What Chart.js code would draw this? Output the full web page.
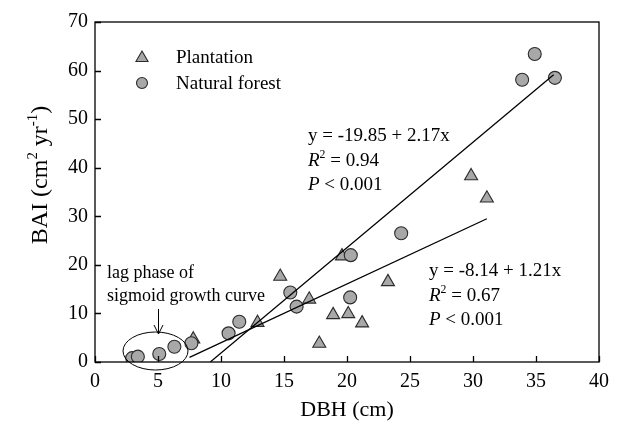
<!DOCTYPE html>
<html>
<head>
<meta charset="utf-8">
<script src="https://cdn.jsdelivr.net/npm/chart.js@4.4.0/dist/chart.umd.min.js"></script>
<style>
    html, body { margin: 0; padding: 0; background: #fff; }
    canvas { display: block; }
</style>
</head>
<body>
<canvas id="baiChart" width="617" height="435"></canvas>
<script>
const plantationDbh = [7.8, 12.9, 14.7, 17.0, 17.8, 18.9, 19.6, 20.1, 21.2, 23.25, 29.85, 31.1];
const plantationBai = [4.7, 8.1, 17.6, 12.9, 3.8, 9.7, 21.8, 9.9, 8.0, 16.5, 38.3, 33.7];

const naturalDbh = [2.95, 3.4, 5.1, 6.3, 7.65, 10.6, 11.45, 15.5, 16.0, 20.3, 20.25, 24.3, 33.9, 34.9, 36.5];
const naturalBai = [0.8, 1.1, 1.65, 3.15, 3.85, 5.9, 8.3, 14.3, 11.4, 22.0, 13.3, 26.5, 58.1, 63.4, 58.5];

// regression lines: [natural forest, plantation]
const fitIntercepts = [-19.85, -8.14];
const fitSlopes = [2.17, 1.21];
const fitFrom = [9.15, 7.5];
const fitTo = [36.4, 31.1];
const fitR2 = ['0.94', '0.67'];
const fitP = ['0.001', '0.001'];

const xTickValues = [0, 5, 10, 15, 20, 25, 30, 35, 40];
const yTickValues = [0, 10, 20, 30, 40, 50, 60, 70];
const legendLabels = ['Plantation', 'Natural forest'];

const SERIF = '"Liberation Serif", "Times New Roman", serif';
const MARKER_FILL = '#a8a8a8';
const MARKER_EDGE = '#2b2b2b';

const toPoints = (xs, ys) => xs.map((x, i) => ({ x, y: ys[i] }));
const fitLine = (i) => [fitFrom[i], fitTo[i]].map((x) => ({ x, y: fitIntercepts[i] + fitSlopes[i] * x }));
const fmtSigned = (v) => (v < 0 ? `-${Math.abs(v).toFixed(2)}` : v.toFixed(2));

// draws text made of parts ({t, italic, sup}), returns width
const drawRich = (ctx, parts, x, y, size, measureOnly = false) => {
    let cx = x;
    parts.forEach((p) => {
        const s = p.sup ? size * 0.62 : size;
        ctx.font = `${p.italic ? 'italic ' : ''}${s}px ${SERIF}`;
        if (!measureOnly) {
            ctx.fillText(p.t, cx, p.sup ? y - size * 0.4 : y);
        }
        cx += ctx.measureText(p.t).width;
    });
    return cx - x;
};

const drawTriangle = (ctx, x, y, r) => {
    ctx.beginPath();
    ctx.moveTo(x, y - r);
    ctx.lineTo(x + r * Math.sin(Math.PI * 2 / 3), y + r / 2);
    ctx.lineTo(x - r * Math.sin(Math.PI * 2 / 3), y + r / 2);
    ctx.closePath();
    ctx.fill();
    ctx.stroke();
};

const decorations = {
    id: 'decorations',
    afterDraw(chart) {
        const { ctx, chartArea: area, scales: { x, y } } = chart;
        ctx.save();
        ctx.strokeStyle = '#000';
        ctx.fillStyle = '#000';
        ctx.lineWidth = 1.3;

        // frame + inward ticks
        ctx.strokeRect(area.left, area.top, area.right - area.left, area.bottom - area.top);
        ctx.beginPath();
        yTickValues.forEach((v) => {
            const py = Math.round(y.getPixelForValue(v)) + 0.5;
            ctx.moveTo(area.left, py);
            ctx.lineTo(area.left + 6, py);
        });
        xTickValues.forEach((v) => {
            const px = Math.round(x.getPixelForValue(v)) + 0.5;
            ctx.moveTo(px, area.bottom);
            ctx.lineTo(px, area.bottom - 6);
        });
        ctx.stroke();

        // legend
        ctx.lineWidth = 1.1;
        ctx.strokeStyle = MARKER_EDGE;
        ctx.fillStyle = MARKER_FILL;
        drawTriangle(ctx, 142, 58, 7);
        ctx.beginPath();
        ctx.arc(142, 83, 5.5, 0, Math.PI * 2);
        ctx.fill();
        ctx.stroke();
        ctx.fillStyle = '#000';
        ctx.textBaseline = 'middle';
        ctx.font = `19px ${SERIF}`;
        ctx.fillText(legendLabels[0], 176, 58);
        ctx.fillText(legendLabels[1], 176, 84);

        // equations
        ctx.textBaseline = 'alphabetic';
        const eqPos = [[308, 141], [429, 276]];
        eqPos.forEach(([ex, ey], i) => {
            drawRich(ctx, [{ t: `y = ${fmtSigned(fitIntercepts[i])} + ${fitSlopes[i].toFixed(2)}x` }], ex, ey, 19);
            drawRich(ctx, [{ t: 'R', italic: true }, { t: '2', sup: true }, { t: ` = ${fitR2[i]}` }], ex, ey + 24.5, 19);
            drawRich(ctx, [{ t: 'P', italic: true }, { t: ` < ${fitP[i]}` }], ex, ey + 49, 19);
        });

        // lag phase annotation
        ctx.font = `18px ${SERIF}`;
        ctx.fillText('lag phase of', 107, 278);
        ctx.fillText('sigmoid growth curve', 107, 301);
        ctx.strokeStyle = '#000';
        ctx.lineWidth = 1;
        ctx.beginPath();
        ctx.moveTo(158.5, 309);
        ctx.lineTo(158.5, 334);
        ctx.moveTo(154, 325);
        ctx.lineTo(158.5, 334);
        ctx.lineTo(163, 325);
        ctx.stroke();
        ctx.beginPath();
        ctx.ellipse(155.5, 351, 32.5, 19, 0, 0, Math.PI * 2);
        ctx.stroke();

        // axis titles
        const xt = 'DBH (cm)';
        ctx.font = `22px ${SERIF}`;
        ctx.textAlign = 'center';
        ctx.fillText(xt, (area.left + area.right) / 2, 416);
        ctx.textAlign = 'left';

        const yParts = [{ t: 'BAI (cm' }, { t: '2', sup: true }, { t: ' yr' }, { t: '-1', sup: true }, { t: ')' }];
        const w = drawRich(ctx, yParts, 0, 0, 24, true);
        ctx.translate(47, 175);
        ctx.rotate(-Math.PI / 2);
        drawRich(ctx, yParts, -w / 2, 0, 24);
        ctx.restore();
    },
};

new Chart(document.getElementById('baiChart'), {
    type: 'scatter',
    data: {
        datasets: [
            {
                type: 'line',
                data: fitLine(0),
                borderColor: '#000',
                borderWidth: 1.3,
                pointRadius: 0,
                fill: false,
            },
            {
                type: 'line',
                data: fitLine(1),
                borderColor: '#000',
                borderWidth: 1.3,
                pointRadius: 0,
                fill: false,
            },
            {
                label: legendLabels[1],
                data: toPoints(naturalDbh, naturalBai),
                pointStyle: 'circle',
                pointRadius: 6.5,
                backgroundColor: MARKER_FILL,
                borderColor: MARKER_EDGE,
                borderWidth: 1.1,
            },
            {
                label: legendLabels[0],
                data: toPoints(plantationDbh, plantationBai),
                pointStyle: 'triangle',
                pointRadius: 7.5,
                backgroundColor: MARKER_FILL,
                borderColor: MARKER_EDGE,
                borderWidth: 1.1,
            },
        ],
    },
    options: {
        responsive: false,
        animation: false,
        devicePixelRatio: 1,
        layout: { padding: { top: 22, right: 12, left: 0, bottom: 0 } },
        plugins: {
            legend: { display: false },
            tooltip: { enabled: false },
        },
        scales: {
            x: {
                type: 'linear',
                min: 0,
                max: 40,
                afterBuildTicks: (scale) => { scale.ticks = xTickValues.map((value) => ({ value })); },
                afterFit: (scale) => { scale.height = 73; },
                grid: { display: false, drawTicks: false },
                border: { display: false },
                ticks: { color: '#000', padding: 8, font: { family: SERIF, size: 20 } },
            },
            y: {
                type: 'linear',
                min: 0,
                max: 70,
                afterBuildTicks: (scale) => { scale.ticks = yTickValues.map((value) => ({ value })); },
                afterFit: (scale) => { scale.width = 95; },
                grid: { display: false, drawTicks: false },
                border: { display: false },
                ticks: { color: '#000', padding: 7, font: { family: SERIF, size: 20 } },
            },
        },
    },
    plugins: [decorations],
});
</script>
</body>
</html>
